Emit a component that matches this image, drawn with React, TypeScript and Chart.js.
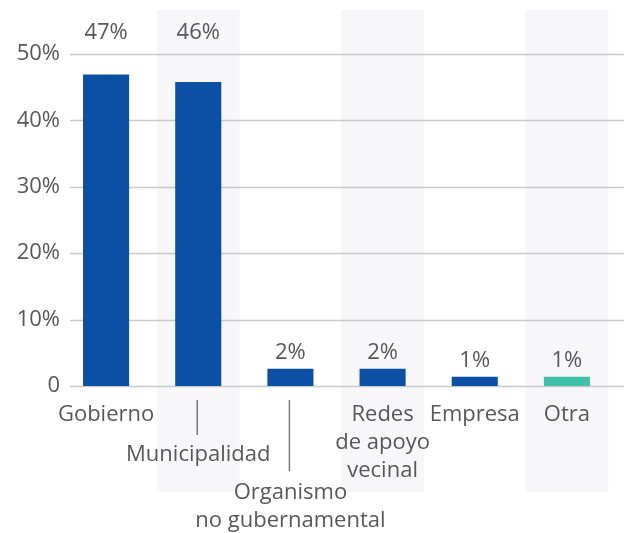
import React, { useEffect, useRef } from 'react';
import { Chart, registerables } from 'chart.js';

Chart.register(...registerables);

const categories = ['Gobierno', 'Municipalidad', 'Organismo no gubernamental', 'Redes de apoyo vecinal', 'Empresa', 'Otra'];
const categoryLines = [['Gobierno'], ['Municipalidad'], ['Organismo', 'no gubernamental'], ['Redes', 'de apoyo', 'vecinal'], ['Empresa'], ['Otra']];
const values = [46.9, 45.8, 2.6, 2.6, 1.4, 1.4];
const valueLabels = ['47%', '46%', '2%', '2%', '1%', '1%'];
const yTickValues = [0, 10, 20, 30, 40, 50];
const yTickLabels = ['0', '10%', '20%', '30%', '40%', '50%'];
const shadedCategories = [1, 3, 5];

const BLUE = '#0b50a4';
const TEAL = '#3fc0a9';
const TEXT = '#585858';
const FONT = "'Open Sans', sans-serif";
const FSIZE = 22;

// per-category label vertical offsets (below the axis) and connector ticks
const labelOffset = [29, 69, 107, 29, 29, 29];
const connector: Record<number, [number, number]> = { 1: [14, 49], 2: [14, 85] };

const decor = {
  id: 'decor',
  beforeDatasetsDraw(chart: any) {
    const { ctx, chartArea, scales } = chart;
    const xs = scales.x;
    const ys = scales.y;
    const step = xs.getPixelForValue(1) - xs.getPixelForValue(0);
    ctx.save();
    ctx.fillStyle = '#f7f7f9';
    shadedCategories.forEach((i) => {
      const cx = xs.getPixelForValue(i);
      const w = step * 0.9;
      ctx.fillRect(cx - w / 2, chartArea.top - 44, w, chartArea.bottom + 106 - (chartArea.top - 44));
    });
    ctx.strokeStyle = '#c8cacc';
    ctx.lineWidth = 1.5;
    yTickValues.forEach((v) => {
      const y = Math.round(ys.getPixelForValue(v)) + 0.5;
      ctx.beginPath();
      ctx.moveTo(chartArea.left + 10, y);
      ctx.lineTo(chart.width, y);
      ctx.stroke();
    });
    ctx.restore();
  },
  afterDatasetsDraw(chart: any) {
    const { ctx, chartArea, scales } = chart;
    const xs = scales.x;
    const meta = chart.getDatasetMeta(0);
    ctx.save();
    ctx.font = `${FSIZE}px ${FONT}`;
    ctx.fillStyle = TEXT;
    ctx.textAlign = 'center';
    ctx.textBaseline = 'middle';
    meta.data.forEach((bar: any, i: number) => {
      const y = values[i] > 40 ? chartArea.top - 21 : bar.y - 16;
      ctx.fillText(valueLabels[i], bar.x, y);
    });
    categoryLines.forEach((lines, i) => {
      const cx = xs.getPixelForValue(i);
      lines.forEach((line, j) => {
        ctx.fillText(line, cx, chartArea.bottom + labelOffset[i] + j * 28);
      });
      const c = connector[i];
      if (c) {
        ctx.strokeStyle = '#777';
        ctx.lineWidth = 1.5;
        ctx.beginPath();
        ctx.moveTo(cx - 1, chartArea.bottom + c[0]);
        ctx.lineTo(cx - 1, chartArea.bottom + c[1]);
        ctx.stroke();
      }
    });
    ctx.restore();
  },
};

export default function App() {
  const ref = useRef<HTMLCanvasElement>(null);
  useEffect(() => {
    if (!ref.current) return;
    const chart = new Chart(ref.current, {
      type: 'bar',
      data: {
        labels: categories,
        datasets: [
          {
            data: values,
            backgroundColor: values.map((_, i) => (i === values.length - 1 ? TEAL : BLUE)),
            barPercentage: 0.5,
            categoryPercentage: 1.0,
          },
        ],
      },
      options: {
        animation: false,
        responsive: false,
        maintainAspectRatio: false,
        layout: { padding: { top: 54, bottom: 147, right: 11, left: 0 } },
        plugins: { legend: { display: false }, tooltip: { enabled: false } },
        scales: {
          x: { display: false, offset: true },
          y: {
            min: 0,
            max: 50,
            border: { display: false },
            grid: { display: false, drawTicks: false },
            afterFit: (s: any) => {
              s.width = 60;
            },
            ticks: {
              stepSize: 10,
              padding: 0,
              color: TEXT,
              font: { family: FONT, size: FSIZE },
              callback: (v: any) => {
                const idx = yTickValues.indexOf(Number(v));
                return idx >= 0 ? yTickLabels[idx] : '';
              },
            },
          },
        },
      },
      plugins: [decor],
    });
    return () => chart.destroy();
  }, []);
  return (
    <div style={{ position: 'fixed', left: 0, top: 0, width: 624, height: 533, background: '#fff' }}>
      <canvas ref={ref} width={624} height={533} style={{ width: 624, height: 533 }} />
    </div>
  );
}
